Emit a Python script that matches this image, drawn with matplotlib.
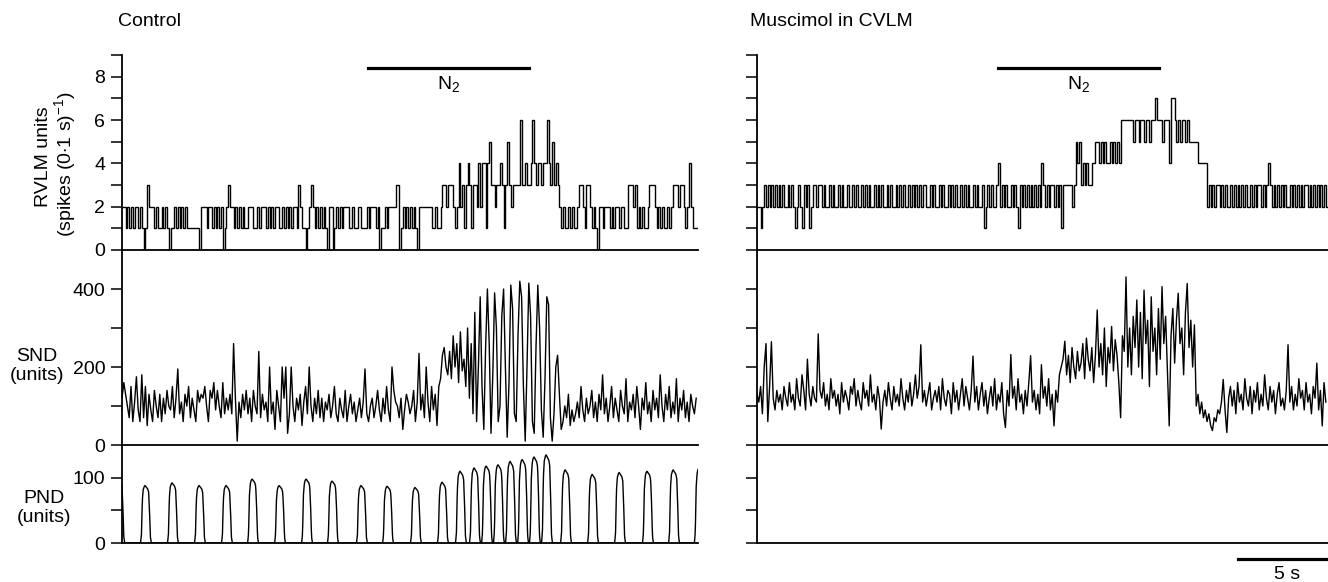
import numpy as np
import matplotlib.pyplot as plt

plt.rcParams['font.family'] = ['Liberation Sans', 'DejaVu Sans']
plt.rcParams['mathtext.fontset'] = 'custom'
plt.rcParams['mathtext.rm'] = 'Liberation Sans'
plt.rcParams['mathtext.it'] = 'Liberation Sans:italic'

# ---- DATA ----
# RVLM unit counts, spikes per 0.1 s bin
rvlm_control = [2,2,1,2,1,2,1,2,2,1, 2,1,0,1,3,2,2,2,1,2, 1,1,2,1,2,1,0,1,1,2,
                1,2,1,2,1,2,1,1,1,1, 1,1,1,0,2,2,2,1,2,2, 1,2,1,2,1,2,0,1,2,3,
                2,2,1,2,1,2,1,2,1,1, 2,2,2,1,1,2,1,2,2,2, 1,2,1,2,1,2,2,1,1,2,
                1,2,1,2,1,2,2,1,3,2, 1,1,0,1,2,3,2,1,2,1, 2,1,2,1,0,2,2,0,1,2,
                1,2,1,2,2,2,1,1,2,1, 1,2,2,1,1,1,2,1,2,2, 2,1,2,0,1,1,2,1,2,2,
                2,2,3,3,0,1,2,1,2,1, 2,1,2,1,
                0,2,2,2,2,2,2,2, 1,1,2,1,1,2, 3,3,2,3,3,3, 2,1,2, 4, 2,3,1,3, 4,
                3,1,3,3,2, 4,2,4,4,1,4, 5, 3,3,2,3,3, 4, 3,1,3, 5, 3,2,3,3,3,3, 6,
                3,3,4,3,3,4, 6, 4,3,4,4,3,4,4, 6, 4,3,5, 3,4,3,
                2,1,2,1,1,2,1,2,1,1,2, 3,3,2,1,3,3,2,1,2,1, 0,
                2,2,1,2,2,2,1,2,1,2, 2,1,2,2,1,1,3,3,3,2, 3,1,2,1,2,1,1,2,3,3,
                3,2,1,2,1,2,1,1,2,1, 2,3,3,3,2,3,3,2,1,2, 4,2,1,1,1]
rvlm_muscimol = [2,2,1,2,3,2,3,2,3,2, 3,2,3,2,3,2,2,3,2,3, 2,1,2,3,2,1,3,2,3,1,
                 2,3,3,2,3,3,2,3,2,2, 3,2,3,2,2,3,2,3,2,2, 3,2,2,3,2,3,2,2,3,2,
                 3,2,3,2,2,3,2,3,2,3, 2,2,3,2,3,2,2,3,2,3, 2,3,2,2,3,2,3,2,3,2,
                 3,2,3,3,2,2,3,2,3,2, 2,3,2,3,2,2,3,2,3,2, 3,2,2,3,2,3,2,3,2,2,
                 3,2,3,2,2,3,1,2,3,2, 3,2,2,3,4,2,3,2,3,2, 2,3,2,3,2,1,3,2,3,2,
                 3,2,3,2,3,2,3,2,4,3, 2,3,2,3,3,2,3,2,3,1, 3,3,3,3,3,2,3,5,4,5,
                 3,4,3,4,3,3,4,4,5,5, 4,5,4,5,4,4,5,4,5,4, 5,4,6,6,6,6,6,6,6,5,
                 6,6,5,6,6,5,6,6,5,6, 6,7,6,6,6,5,6,6,6,4, 7,7,6,5,6,5,6,6,5,6,
                 5,5,5,5,5,4,4,4,4,4, 2,3,2,3,2,3,3,2,3,2, 3,2,2,3,2,3,2,3,2,3,
                 2,3,2,2,3,2,3,2,3,3, 2,3,2,3,4,3,2,3,2,3, 2,3,2,3,2,2,3,2,3,2,
                 3,2,3,2,3,3,2,3,2,3, 2,3,2,3,2,3,2]

# SND, units, 0.1 s samples
snd_control = [120,160,130,100,70,150,60,110,175,90,60, 180,70,150,50,130,90,60,140,100,70,
               130,60,120,80,140,100,90,150,70,120, 195,80,110,60,130,100,150,70,120,90,
               60,140,110,130,120,150,100,60,140,120, 160,90,140,100,70,160,80,120,90,130,
               80,260,120,10,110,70,130,90,140,80, 120,60,140,100,80,240,70,130,90,110,
               60,200,80,110,40,140,100,60,200,120, 200,30,80,200,100,60,120,90,130,50,
               110,150,80,200,100,60,120,80,140,70, 120,60,110,90,130,70,100,150,80,60,
               120,90,70,140,60,100,130,80,110,60, 90,120,70,110,195,80,60,100,120,70,
               100,140,90,60,120,80,150,90,60,200, 140,110,100,70,120,40,90,130,110,80,
               100,140,60,110,235,90,130,70,200,110, 60,150,90,130,50,150,170,230,250,200,
               180,240,170,280,200,260,160,290,190,220, 150,300,120,260,80,340,60,200,380,150,
               40,250,400,260,30,180,390,300,60,100, 330,400,200,20,160,410,350,80,60,280,
               420,380,150,10,200,415,330,60,30,250, 410,300,90,20,170,380,360,70,10,80,
               200,230,130,40,60,100,70,130,50,90, 60,80,110,70,150,90,60,120,80,100,
               140,70,110,60,130,90,180,80,120,60, 100,150,70,120,90,60,140,100,80,170,
               60,110,90,130,70,150,100,40,120,90, 160,80,110,60,140,90,120,70,180,100,
               60,130,90,150,70,110,80,170,60,120, 90,140,70,110,60,130,100,80,120]
snd_muscimol = [130,110,150,80,200,260,60,150,265,120, 90,140,110,130,90,150,120,100,160,110,
                130,90,170,120,100,180,140,90,220,130, 100,150,120,110,285,140,120,160,100,130,
                90,170,120,140,100,130,80,160,110,140, 120,90,150,130,170,100,140,110,90,160,
                120,140,100,180,110,130,90,150,120,41, 110,140,100,160,120,90,150,110,130,100,
                170,120,90,140,110,160,100,130,180,120, 150,257,110,140,100,130,160,90,120,140,
                110,150,90,170,120,100,140,130,80,160, 110,140,90,130,170,100,150,120,90,140,
                228,110,150,90,130,160,100,140,80,120, 150,100,170,90,130,110,160,80,45,140,
                100,232,120,150,90,170,110,130,80,140, 100,160,229,110,140,90,130,80,206,120,
                150,100,170,90,130,49,140,110,180,200, 220,266,180,230,160,250,200,170,240,190,
                210,260,170,274,220,190,250,160,230,346, 200,260,180,300,150,250,210,304,190,270,
                230,160,70,280,240,431,200,300,180,330, 250,372,200,340,170,397,260,320,150,380,
                240,300,180,350,220,406,260,330,190,49, 280,350,210,320,389,260,300,180,340,414,
                250,320,200,308,100,130,80,110,70,90, 60,80,50,37,70,60,90,80,110,168,
                90,32,120,150,100,140,80,160,110,130, 90,170,120,100,150,80,140,110,160,90,
                130,100,180,120,90,150,110,140,80,130, 160,100,120,90,140,257,110,150,90,130,
                100,170,120,140,90,160,110,130,80,150, 120,210,90,140,49,160,110]

# PND bursts (control): burst centre time (s) and peak (units)
pnd_burst_t = [-0.15, 1.33, 2.83, 4.33, 5.83, 7.28, 8.78, 10.28, 11.72, 13.33, 14.78, 16.33, 17.83,
               18.83, 19.61, 20.28, 20.94, 21.61, 22.28, 22.94, 23.61,
               24.67, 26.17, 27.67, 29.22, 30.67, 32.1]
pnd_burst_peak = [100, 88, 92, 88, 88, 98, 88, 98, 95, 88, 87, 85, 93,
                  110, 115, 118, 120, 125, 128, 132, 135,
                  112, 105, 108, 110, 112, 115]
# normalised burst profile (time from centre, s)
burst_dt = [-0.30, -0.25, -0.20, -0.15, -0.10, -0.05, 0.0, 0.05, 0.10, 0.15, 0.20, 0.25, 0.30]
burst_v = [0, 0.15, 0.75, 0.93, 0.98, 1.0, 0.98, 0.96, 0.94, 0.88, 0.55, 0.1, 0]
pnd_muscimol = [0, 0, 0, 0, 0, 0, 0, 0]

n2_control = (13.67, 22.6)
n2_muscimol = (13.4, 22.33)

# ---- FIGURE ----
W, H = 1328, 582
FS = 14
fig = plt.figure(figsize=(W / 100, H / 100), dpi=100)


def box(x0, x1, ytop, ybot):
    return [x0 / W, 1 - ybot / H, (x1 - x0) / W, (ybot - ytop) / H]


def style(ax, major, minor, lim, labels):
    for s in ['top', 'right']:
        ax.spines[s].set_visible(False)
    ax.spines['left'].set_linewidth(1.3)
    ax.spines['bottom'].set_linewidth(1.3)
    ax.set_ylim(*lim)
    ax.set_yticks(major)
    ax.set_yticks(minor, minor=True)
    ax.set_xticks([])
    ax.tick_params(axis='y', which='both', direction='out', length=8, width=1.1,
                   labelsize=FS, pad=4, labelleft=labels)


cols = [(122, 698, 32.0, rvlm_control, snd_control, n2_control, True),
        (757, 1328, 31.72, rvlm_muscimol, snd_muscimol, n2_muscimol, False)]

for x0, x1, tmax, rvlm, snd, n2, lab in cols:
    ax1 = fig.add_axes(box(x0, x1, 55, 250))
    ax2 = fig.add_axes(box(x0, x1, 250, 445))
    ax3 = fig.add_axes(box(x0, x1, 445, 543))
    for a in (ax1, ax2, ax3):
        a.set_xlim(0, tmax)
        a.patch.set_visible(False)

    style(ax1, [0, 2, 4, 6, 8], [1, 3, 5, 7, 9], (0, 9), lab)
    edges = np.arange(len(rvlm) + 1) * 0.1
    ax1.stairs(rvlm, edges, baseline=None, color='k', lw=1.0)
    ax1.plot(n2, [8.4, 8.4], color='k', lw=2.3, clip_on=False)
    ax1.text(sum(n2) / 2, 7.65, 'N$_2$', ha='center', va='center', fontsize=FS)

    style(ax2, [0, 200, 400], [100, 300], (0, 500), lab)
    t_snd = np.arange(len(snd)) * 0.1
    ax2.plot(t_snd, snd, color='k', lw=1.0)

    style(ax3, [0, 100], [50], (0, 150), lab)
    if lab:
        t = np.arange(0, tmax + 0.001, 0.02)
        pnd = np.zeros_like(t)
        for bt, bp in zip(pnd_burst_t, pnd_burst_peak):
            pnd = np.maximum(pnd, bp * np.interp(t - bt, burst_dt, burst_v, left=0, right=0))
        ax3.plot(t, pnd, color='k', lw=1.0)
    else:
        ax3.plot(np.linspace(0, tmax, len(pnd_muscimol)), pnd_muscimol, color='k', lw=1.0)
        # 5 s scale bar
        ax3.plot([tmax - 5, tmax], [-24, -24], color='k', lw=2.3, clip_on=False)
        ax3.text(tmax - 2.3, -48, '5 s', ha='center', va='center', fontsize=FS)

fig.text(118 / W, 1 - 22 / H, 'Control', ha='left', va='center', fontsize=FS)
fig.text(750 / W, 1 - 22 / H, 'Muscimol in CVLM', ha='left', va='center', fontsize=FS)
fig.text(43 / W, 1 - 157 / H, 'RVLM units', rotation=90, ha='center', va='center', fontsize=FS)
fig.text(65 / W, 1 - 164 / H, '(spikes (0$\\cdot$1 s)$^{-1}$)', rotation=90,
         ha='center', va='center', fontsize=FS)
fig.text(37 / W, 1 - 366 / H, 'SND\n(units)', ha='center', va='center', fontsize=FS,
         linespacing=1.1)
fig.text(44 / W, 1 - 508 / H, 'PND\n(units)', ha='center', va='center', fontsize=FS,
         linespacing=1.1)

fig.savefig('out.png', dpi=100)
